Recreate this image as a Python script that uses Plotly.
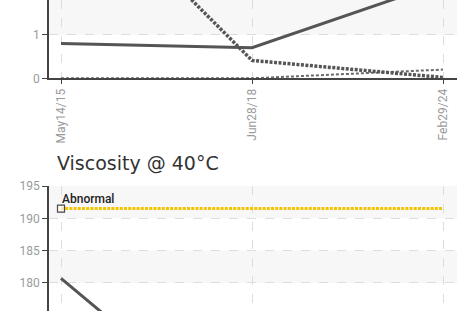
import plotly.graph_objects as go

categories = ["May14/15", "Jun28/18", "Feb29/24"]

# top chart series
top_solid = [0.8, 0.7, 2.2]
top_dotted = [4.8, 0.41, 0.02]
top_light = [0.0, 0.0, 0.2]
top_ticks = [0, 1, 2, 3, 4, 5]

# bottom chart: Viscosity @ 40°C
visc = [180.7, 156.0, 150.0]
abnormal = [191.5, 191.5, 191.5]
bottom_ticks = [175, 180, 185, 190, 195]

W, H = 457, 311
FONT_TICK = dict(family="Roboto, sans-serif", size=12, color="#9a9a9a")
DARK = "#555555"
GRID = "#dddddd"
BAND = "#f7f7f7"

fig = go.Figure()
fig.add_trace(go.Scatter(x=categories, y=top_light, mode="lines",
                         line=dict(color="#6a6a6a", width=2, dash="3px,2px"), xaxis="x", yaxis="y"))
fig.add_trace(go.Scatter(x=categories, y=top_dotted, mode="lines",
                         line=dict(color=DARK, width=3.5, dash="3px,1.5px"), xaxis="x", yaxis="y"))
fig.add_trace(go.Scatter(x=categories, y=top_solid, mode="lines",
                         line=dict(color=DARK, width=3), xaxis="x", yaxis="y"))

fig.add_trace(go.Scatter(x=categories, y=abnormal, mode="lines+markers",
                         line=dict(color="#f5c400", width=3, dash="3px,1.2px"),
                         marker=dict(symbol="square", size=[7, 0, 0], color="white",
                                     line=dict(color="black", width=1.2)),
                         xaxis="x2", yaxis="y2"))
fig.add_trace(go.Scatter(x=categories, y=visc, mode="lines",
                         line=dict(color=DARK, width=3), xaxis="x2", yaxis="y2"))

# alternating bands
shapes = []
for i in range(1, len(top_ticks) - 1, 2):
    shapes.append(dict(type="rect", xref="x domain", yref="y", x0=0, x1=1,
                       y0=top_ticks[i], y1=top_ticks[i + 1], fillcolor=BAND,
                       line=dict(width=0), layer="below"))
for i in range(1, len(bottom_ticks) - 1, 2):
    shapes.append(dict(type="rect", xref="x2 domain", yref="y2", x0=0, x1=1,
                       y0=bottom_ticks[i], y1=bottom_ticks[i + 1], fillcolor=BAND,
                       line=dict(width=0), layer="below"))

x_left = 49 / W
xr = [-12 / 191, 2 + 14 / 191]
top_dom = [1 - 78.3 / H, 1]
bot_dom = [0, 1 - 186 / H]

xcommon = dict(type="category", range=xr, domain=[x_left, 1], showgrid=True,
               gridcolor=GRID, griddash="dash", gridwidth=1, zeroline=False,
               automargin=False)

fig.update_layout(
    template="none",
    width=W, height=H, margin=dict(l=0, r=0, t=0, b=0, pad=0), autosize=False,
    paper_bgcolor="white", plot_bgcolor="white", showlegend=False,
    shapes=shapes,
    xaxis=dict(**xcommon, anchor="y", showline=True, linecolor="#444", linewidth=1.5,
               ticks="outside", ticklen=4, tickcolor="#444", tickangle=-90,
               tickfont=FONT_TICK),
    yaxis=dict(domain=top_dom, range=[0, 78.3 / 43.6], anchor="x", tickvals=top_ticks,
               showline=True, linecolor="#444", linewidth=1.5, ticks="outside", ticklen=5,
               tickcolor="#444", tickfont=FONT_TICK, showgrid=True, gridcolor=GRID,
               griddash="dash", zeroline=False, automargin=False),
    xaxis2=dict(**xcommon, anchor="y2", showline=False, showticklabels=False),
    yaxis2=dict(domain=bot_dom, range=[195 - 125 / 6.46, 195], anchor="x2",
                tickvals=bottom_ticks, showline=True, linecolor="#444", linewidth=1.5,
                ticks="outside", ticklen=5, tickcolor="#444", tickfont=FONT_TICK,
                showgrid=True, gridcolor=GRID, griddash="dash", zeroline=False,
                automargin=False),
    annotations=[
        dict(text="Viscosity @ 40°C", xref="paper", yref="paper", x=55 / W,
             y=1 - 163 / H, xanchor="left", yanchor="middle", showarrow=False,
             font=dict(family="DejaVu Sans, Verdana, sans-serif", size=19, color="#333333")),
        dict(text="Abnormal", xref="x2", yref="y2", x=categories[0], y=abnormal[0],
             xanchor="left", yanchor="bottom", showarrow=False, xshift=-1, yshift=1,
             font=dict(family="Roboto, sans-serif", size=12, weight=500,
                       color="#222222")),
    ],
)

pin = ("document.body.style.margin='0';document.body.style.overflow='hidden';"
       "var d=document.getElementById('{plot_id}');d.style.position='fixed';"
       "d.style.left='0px';d.style.top='0px';")
fig.write_html("out.html", post_script=pin, config={"displayModeBar": False})
